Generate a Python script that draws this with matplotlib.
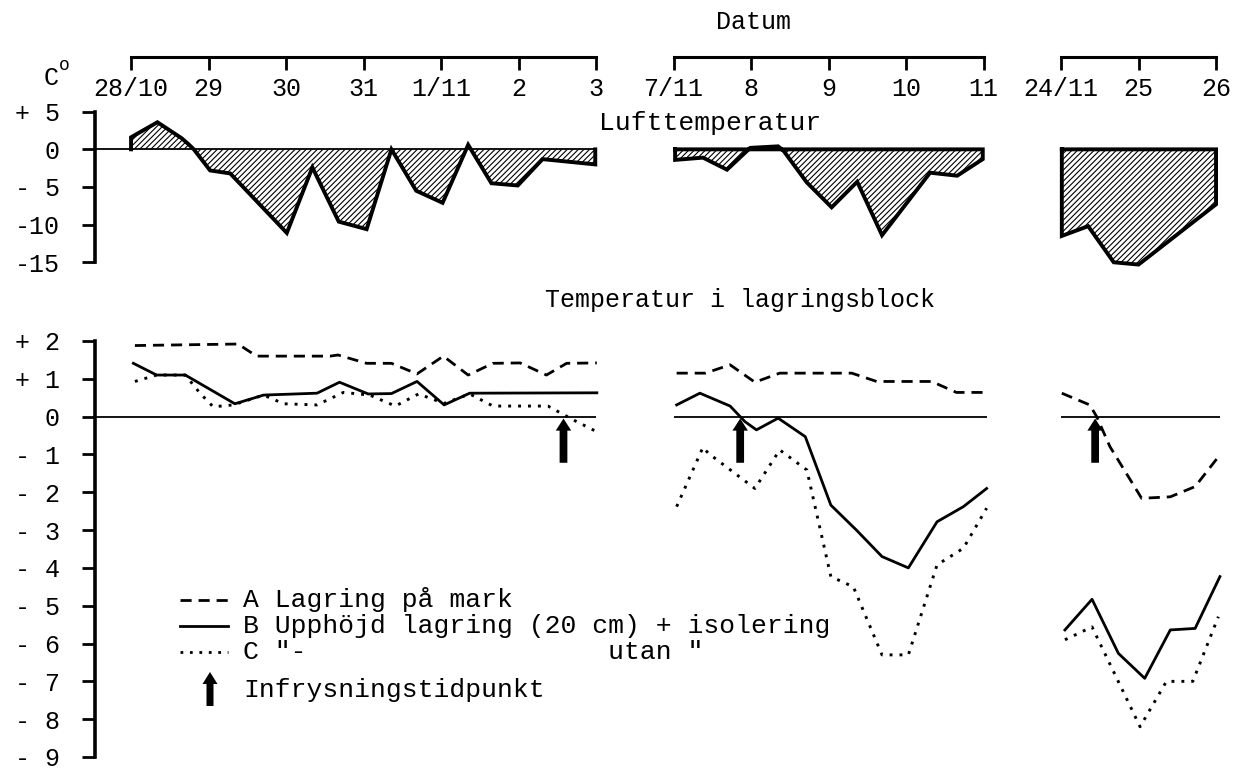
import numpy as np
import matplotlib.pyplot as plt

plt.rcParams['font.family'] = ['Liberation Mono', 'DejaVu Sans Mono']
plt.rcParams['hatch.linewidth'] = 0.8

# x axis: running day number, three separate date periods
seg_ranges = [(0, 6), (7, 11), (12, 14)]
seg_labels = [["28/10", "29", "30", "31", "1/11", "2", "3"],
              ["7/11", "8", "9", "10", "11"],
              ["24/11", "25", "26"]]

# Lufttemperatur, C (outline of the hatched areas)
air1_x = [0.0, 0.0, 0.34, 0.65, 0.74, 0.81, 1.02, 1.28, 2.01, 2.34, 2.68, 3.04, 3.36,
          3.68, 4.02, 4.35, 4.65, 4.99, 5.31, 5.99, 5.99]
air1_t = [0, 1.6, 3.6, 1.5, 0.7, 0, -2.8, -3.2, -11.1, -2.4, -9.6, -10.6, 0,
          -5.5, -7.1, 0.6, -4.5, -4.8, -1.3, -2.0, 0]
air2_x = [7.02, 7.02, 7.38, 7.69, 7.99, 8.35, 8.42, 8.72, 9.04, 9.37, 9.69, 10.31,
          10.66, 10.99, 10.99]
air2_t = [0, -1.4, -1.1, -2.7, 0.2, 0.4, -0.2, -4.4, -7.7, -4.3, -11.4, -3.1, -3.5, -1.3, 0]
air3_x = [12.01, 12.01, 12.35, 12.68, 13.0, 14.0, 14.0]
air3_t = [0, -11.5, -10.2, -15.0, -15.3, -7.3, 0]

# Temperatur i lagringsblock, C
a1_x = [0.05, 1.38, 1.62, 2.57, 2.67, 3.04, 3.36, 3.69, 4.03, 4.35, 4.67, 5.02, 5.36, 5.62, 6.01]
a1_t = [1.88, 1.92, 1.6, 1.6, 1.63, 1.41, 1.41, 1.13, 1.6, 1.1, 1.41, 1.42, 1.1, 1.41, 1.42]
b1_x = [0.03, 0.33, 0.70, 1.34, 1.71, 2.40, 2.69, 3.06, 3.36, 3.69, 4.04, 4.37, 6.01]
b1_t = [1.41, 1.1, 1.1, 0.34, 0.57, 0.62, 0.91, 0.6, 0.61, 0.93, 0.31, 0.62, 0.63]
c1_x = [0.05, 0.33, 0.70, 0.89, 1.06, 1.32, 1.71, 1.97, 2.40, 2.74, 3.08, 3.41, 3.71,
        4.04, 4.37, 4.67, 5.38, 5.54, 5.71, 6.03]
c1_t = [0.93, 1.1, 1.1, 0.62, 0.26, 0.31, 0.57, 0.34, 0.31, 0.64, 0.57, 0.28, 0.6,
        0.35, 0.6, 0.28, 0.28, 0.1, -0.09, -0.42]

a2_x = [7.04, 7.41, 7.73, 8.05, 8.37, 9.30, 9.62, 10.33, 10.65, 11.02]
a2_t = [1.15, 1.15, 1.37, 0.91, 1.15, 1.15, 0.93, 0.93, 0.64, 0.64]
b2_x = [7.04, 7.34, 7.73, 7.92, 8.07, 8.35, 8.70, 9.03, 9.36, 9.69, 10.03, 10.40, 10.74, 11.04]
b2_t = [0.31, 0.62, 0.28, -0.13, -0.35, -0.04, -0.53, -2.34, -3.0, -3.7, -4.0, -2.78, -2.38, -1.9]
c2_x = [7.04, 7.38, 7.45, 8.05, 8.37, 8.72, 9.03, 9.32, 9.69, 10.03, 10.40, 10.74, 11.04]
c2_t = [-2.38, -0.81, -0.97, -1.9, -0.88, -1.41, -4.23, -4.5, -6.3, -6.3, -3.92, -3.48, -2.42]

a3_x = [12.01, 12.37, 12.46, 12.63, 13.04, 13.41, 13.73, 14.05]
a3_t = [0.62, 0.31, 0.0, -0.79, -2.16, -2.12, -1.85, -1.01]
b3_x = [12.05, 12.40, 12.74, 13.08, 13.41, 13.73, 14.05]
b3_t = [-5.64, -4.83, -6.26, -6.92, -5.64, -5.6, -4.23]
c3_x = [12.05, 12.40, 13.02, 13.36, 13.70, 14.03]
c3_t = [-5.9, -5.56, -8.2, -7.0, -7.0, -5.29]

# Infrysningstidpunkt (freezing moment)
freeze_x = [5.58, 7.86, 12.44]

air_yticks = [5, 0, -5, -10, -15]
air_ylabels = ["+ 5", "0", "- 5", "-10", "-15"]
blk_yticks = [2, 1, 0, -1, -2, -3, -4, -5, -6, -7, -8, -9]
blk_ylabels = ["+ 2", "+ 1", "0", "- 1", "- 2", "- 3", "- 4", "- 5", "- 6", "- 7", "- 8", "- 9"]

legend_labels = ["A Lagring på mark",
                 "B Upphöjd lagring (20 cm) + isolering",
                 'C "-' + " " * 19 + 'utan "']

# layout in pixels
W, H = 1236, 772
px_day = 77.5
x_axis_px = 95
xmin, xmax = -0.465, 14.2

def fxp(p):
    return (x_axis_px + (p - xmin) * px_day) / W

def fy(py):
    return 1 - py / H

dash = (0, (4, 2.5))
dot = (0, (1, 2.4))

fig = plt.figure(figsize=(W / 100, H / 100), dpi=100)
ax_w = fxp(xmax) - fxp(xmin)
ax1 = fig.add_axes([fxp(xmin), fy(262.3), ax_w, fy(111.7) - fy(262.3)])
ax2 = fig.add_axes([fxp(xmin), fy(757), ax_w, fy(341) - fy(757)])

for ax, ticks, labels, lo, hi in [(ax1, air_yticks, air_ylabels, -15, 5),
                                  (ax2, blk_yticks, blk_ylabels, -9, 2)]:
    for s in ['top', 'right', 'bottom']:
        ax.spines[s].set_visible(False)
    ax.spines['left'].set_linewidth(2.6)
    ax.set_xlim(xmin, xmax)
    ax.set_ylim(lo, hi)
    ax.set_xticks([])
    ax.set_yticks(ticks, labels)
    ax.tick_params(axis='y', direction='out', length=9.5, width=2, pad=16, labelsize=18)
    ax.patch.set_visible(False)

# air temperature
ax1.hlines(0, xmin, air1_x[-1], color='black', lw=1.3)
for xs, ts, closed in [(air1_x, air1_t, False), (air2_x, air2_t, True), (air3_x, air3_t, True)]:
    ax1.fill(xs, ts, facecolor='white', edgecolor='black', lw=0, hatch='//////', clip_on=False)
    if closed:
        ax1.plot(xs + xs[:1], ts + ts[:1], color='black', lw=2.8, solid_joinstyle='miter',
                 clip_on=False)
    else:
        ax1.plot(xs, ts, color='black', lw=2.8, solid_joinstyle='miter', clip_on=False)

# block temperatures
ax2.hlines(0, xmin, seg_ranges[0][1], color='black', lw=1.3)
for lo, hi in seg_ranges[1:]:
    ax2.hlines(0, lo, hi + 0.05, color='black', lw=1.3)
for xs, ts in [(a1_x, a1_t), (a2_x, a2_t), (a3_x, a3_t)]:
    ax2.plot(xs, ts, color='black', lw=2.0, linestyle=dash)
for xs, ts in [(b1_x, b1_t), (b2_x, b2_t), (b3_x, b3_t)]:
    ax2.plot(xs, ts, color='black', lw=2.0)
for xs, ts in [(c1_x, c1_t), (c2_x, c2_t), (c3_x, c3_t)]:
    ax2.plot(xs, ts, color='black', lw=2.1, linestyle=dot)
for fx_ in freeze_x:
    ax2.arrow(fx_, -1.22, 0, 1.17, width=0.1, head_width=0.2, head_length=0.32,
              length_includes_head=True, fc='black', ec='black', lw=0)

# date brackets on top
for (lo, hi), labels in zip(seg_ranges, seg_labels):
    axd = fig.add_axes([fxp(lo), fy(57), fxp(hi) - fxp(lo), 0.01])
    for s in ['top', 'right', 'left']:
        axd.spines[s].set_visible(False)
    axd.spines['bottom'].set_linewidth(2.2)
    axd.set_xlim(lo, hi)
    axd.set_yticks([])
    axd.set_xticks(np.arange(lo, hi + 1), labels)
    axd.tick_params(axis='x', direction='out', length=9.5, width=2, pad=5, labelsize=18)
    axd.patch.set_visible(False)

# texts and legend (pixel overlay)
lay = fig.add_axes([0, 0, 1, 1])
lay.set_xlim(0, W)
lay.set_ylim(H, 0)
lay.axis('off')

lay.text(753, 22, "Datum", ha='center', va='center', fontsize=18)
lay.text(710, 123, "Lufttemperatur", ha='center', va='center', fontsize=19)
lay.text(740, 300, "Temperatur i lagringsblock", ha='center', va='center', fontsize=18)
lay.text(44, 78, "C", ha='left', va='center', fontsize=18)
lay.text(59, 66, "o", ha='left', va='center', fontsize=13)

leg_y = [600, 626, 652]
for yy, lab, ls in zip(leg_y, legend_labels, [dash, '-', dot]):
    lay.plot([180, 228], [yy, yy], color='black', lw=2.0, linestyle=ls)
    lay.text(243, yy, lab, ha='left', va='center', fontsize=19)
lay.arrow(210, 706, 0, -34, width=7, head_width=15, head_length=12,
          length_includes_head=True, fc='black', ec='black', lw=0)
lay.text(243, 690, "Infrysningstidpunkt", ha='left', va='center', fontsize=19)

fig.savefig("out.png", dpi=100)
